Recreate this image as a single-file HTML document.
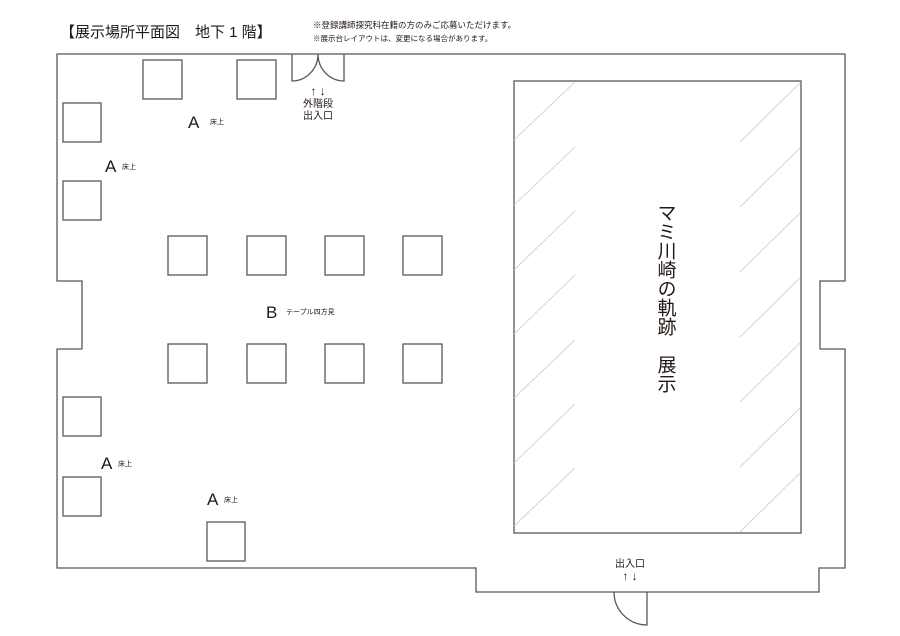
<!DOCTYPE html>
<html><head><meta charset="utf-8"><style>
body{margin:0;background:#fff}
svg{display:block}
text{font-family:"Liberation Sans","Noto Sans CJK JP",sans-serif;fill:#231815}
</style></head><body>
<svg width="900" height="636" viewBox="0 0 900 636" xmlns="http://www.w3.org/2000/svg">
<g fill="none" stroke="#595757" stroke-width="1.3">
<path d="M57,54 H845 V281 H820 V349 H845 V568 H819 V592 H476 V568 H57 V349 H82 V281 H57 Z"/>
<path d="M292,54 V81 A26,27 0 0 0 318,54 A26,27 0 0 0 344,81 V54"/>
<path d="M614,592 A33,33 0 0 0 647,625 V592"/>
<rect x="143" y="60" width="39" height="39"/>
<rect x="237" y="60" width="39" height="39"/>
<rect x="63" y="103" width="38" height="39"/>
<rect x="63" y="181" width="38" height="39"/>
<rect x="63" y="397" width="38" height="39"/>
<rect x="63" y="477" width="38" height="39"/>
<rect x="207" y="522" width="38" height="39"/>
<rect x="168" y="236" width="39" height="39"/>
<rect x="247" y="236" width="39" height="39"/>
<rect x="325" y="236" width="39" height="39"/>
<rect x="403" y="236" width="39" height="39"/>
<rect x="168" y="344" width="39" height="39"/>
<rect x="247" y="344" width="39" height="39"/>
<rect x="325" y="344" width="39" height="39"/>
<rect x="403" y="344" width="39" height="39"/>
<rect x="514" y="81" width="287" height="452"/>
</g>
<g stroke="#c9c9c9" stroke-width="0.8">
<line x1="514" y1="140" x2="575" y2="82"/>
<line x1="514" y1="205" x2="575" y2="147"/>
<line x1="514" y1="270" x2="575" y2="211"/>
<line x1="514" y1="334" x2="575" y2="275"/>
<line x1="514" y1="398" x2="575" y2="340"/>
<line x1="514" y1="463" x2="575" y2="404"/>
<line x1="514" y1="526" x2="575" y2="468"/>
<line x1="740" y1="142" x2="800" y2="83"/>
<line x1="740" y1="207" x2="800" y2="148"/>
<line x1="740" y1="272" x2="800" y2="213"/>
<line x1="740" y1="337" x2="800" y2="278"/>
<line x1="740" y1="402" x2="800" y2="343"/>
<line x1="740" y1="467" x2="800" y2="408"/>
<line x1="740" y1="532" x2="800" y2="473"/>
</g>
<text x="60" y="37" font-size="15">【展示場所平面図　地下 1 階】</text>
<text x="313" y="28" font-size="8.5">※登録講師探究科在籍の方のみご応募いただけます。</text>
<text x="313" y="41" font-size="7.5">※展示台レイアウトは、変更になる場合があります。</text>
<text x="318" y="95" font-size="12" text-anchor="middle">↑ ↓</text>
<text x="318" y="107" font-size="10" text-anchor="middle">外階段</text>
<text x="318" y="119" font-size="10" text-anchor="middle">出入口</text>
<text x="630" y="567" font-size="10" text-anchor="middle">出入口</text>
<text x="630" y="580" font-size="12" text-anchor="middle">↑ ↓</text>
<text x="188" y="128" font-size="17">A</text><text x="210" y="124" font-size="7">床上</text>
<text x="105" y="172" font-size="17">A</text><text x="122" y="169" font-size="7">床上</text>
<text x="101" y="469" font-size="17">A</text><text x="118" y="466" font-size="7">床上</text>
<text x="207" y="505" font-size="17">A</text><text x="224" y="502" font-size="7">床上</text>
<text x="266" y="318" font-size="17">B</text><text x="286" y="314" font-size="7">テープル四方見</text>
<text x="665" y="203" font-size="19" style="writing-mode:vertical-rl;letter-spacing:0px">マミ川崎の軌跡　展示</text>
</svg>
</body></html>
